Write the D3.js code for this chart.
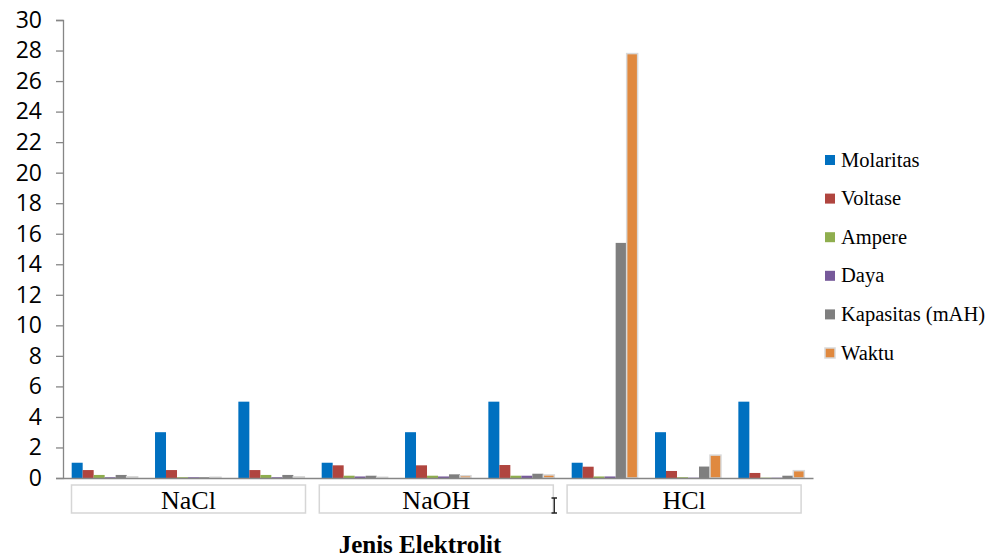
<!DOCTYPE html>
<html>
<head>
<meta charset="utf-8">
<script src="https://cdn.jsdelivr.net/npm/d3@7"></script>
<style>
  html, body { margin: 0; padding: 0; background: #fff; }
  svg { display: block; }
</style>
</head>
<body>
<svg id="chart" width="993" height="558"></svg>
<script>
// Electrolyte types and molarity levels (one bar cluster per electrolyte × molarity)
const electrolytes = ["NaCl", "NaOH", "HCl"];
const molarities = ["1 M", "3 M", "5 M"];
const seriesNames = ["Molaritas", "Voltase", "Ampere", "Daya", "Kapasitas (mAH)", "Waktu"];
const seriesColors = ["#0070C0", "#B0453F", "#8FAE4E", "#76599A", "#7F7F7F", "#E0893F"];
const yTicks = [0, 2, 4, 6, 8, 10, 12, 14, 16, 18, 20, 22, 24, 26, 28, 30];

// Values per series, in cluster order: NaCl 1/3/5 M, NaOH 1/3/5 M, HCl 1/3/5 M
const molaritas = [1, 3, 5, 1, 3, 5, 1, 3, 5];
const voltase   = [0.52, 0.52, 0.52, 0.83, 0.83, 0.85, 0.74, 0.46, 0.33];
const ampere    = [0.2, 0.05, 0.2, 0.15, 0.15, 0.15, 0.1, 0.05, 0.02];
const daya      = [0.05, 0.05, 0.05, 0.1, 0.1, 0.15, 0.1, 0.02, 0.02];
const kapasitas = [0.2, 0.05, 0.2, 0.15, 0.24, 0.28, 15.4, 0.75, 0.15];
const waktu     = [0.08, 0.05, 0.08, 0.05, 0.15, 0.2, 27.8, 1.5, 0.48];
const seriesValues = [molaritas, voltase, ampere, daya, kapasitas, waktu];

const clusters = [];
electrolytes.forEach(e => molarities.forEach(m => clusters.push(e + " " + m)));

const serif = "'Liberation Serif', 'Times New Roman', serif";
const svg = d3.select("#chart");
const plotLeft = 63, plotRight = 813, plotTop = 20, plotBottom = 478;

const x0 = d3.scaleBand().domain(clusters).range([plotLeft, plotRight]).padding(0);
const x1 = d3.scaleBand().domain(seriesNames).range([0, x0.bandwidth()])
  .paddingInner(0).paddingOuter(0.79);
const y = d3.scaleLinear().domain([0, 30]).range([plotBottom, plotTop]);

// bars
const barG = svg.append("g");
seriesNames.forEach((s, si) => {
  barG.append("g").selectAll("rect").data(seriesValues[si]).join("rect")
    .attr("x", (d, i) => x0(clusters[i]) + x1(s))
    .attr("width", x1.bandwidth())
    .attr("y", d => y(d))
    .attr("height", d => y(0) - y(d))
    .attr("fill", seriesColors[si])
    .attr("stroke", si === 5 ? "#d9d9d9" : "none")
    .attr("stroke-width", si === 5 ? 1.5 : 0);
});

// y axis
const yAxis = d3.axisLeft(y).tickValues(yTicks).tickSize(7).tickPadding(14);
const gy = svg.append("g").attr("transform", `translate(${plotLeft},0)`).call(yAxis);
gy.select(".domain").attr("stroke", "#868686").attr("stroke-width", 1.3);
gy.selectAll(".tick line").attr("stroke", "#868686").attr("stroke-width", 1.3);
gy.selectAll(".tick text")
  .attr("font-family", "'Open Sans', 'Liberation Sans', sans-serif")
  .attr("font-size", 23)
  .attr("fill", "#000");

// x axis baseline
const xAxis = d3.axisBottom(x0).tickSize(0).tickFormat("");
const gx = svg.append("g").attr("transform", `translate(0,${plotBottom})`).call(xAxis);
gx.select(".domain").attr("stroke", "#868686").attr("stroke-width", 1.5);

// category boxes for the electrolytes
const catG = svg.append("g");
electrolytes.forEach((e, ei) => {
  const first = x0(e + " " + molarities[0]);
  const bx = first + 8.5 - ei * 2.2, bw = 234;
  catG.append("rect")
    .attr("x", bx).attr("y", 485)
    .attr("width", bw).attr("height", 28)
    .attr("fill", "#fff")
    .attr("stroke", "#d6d6d6")
    .attr("stroke-width", 1.5);
  catG.append("text")
    .attr("x", bx + bw / 2)
    .attr("y", 509)
    .attr("text-anchor", "middle")
    .attr("font-family", serif)
    .attr("font-size", 26)
    .attr("fill", "#000")
    .text(e);
});
// small cursor-like mark at the right end of the NaOH box
catG.append("path")
  .attr("d", "M551.5,498H557M554.3,498V513M551.5,513H557")
  .attr("stroke", "#222").attr("stroke-width", 1.3).attr("fill", "none");

// axis title
svg.append("text")
  .attr("x", 420).attr("y", 553)
  .attr("text-anchor", "middle")
  .attr("font-family", serif)
  .attr("font-weight", "bold")
  .attr("font-size", 25)
  .attr("fill", "#000")
  .text("Jenis Elektrolit");

// legend
const legend = svg.append("g");
seriesNames.forEach((s, i) => {
  const cy = 160 + i * 38.6;
  legend.append("rect")
    .attr("x", 825).attr("y", cy - 5)
    .attr("width", 10).attr("height", 10)
    .attr("fill", seriesColors[i])
    .attr("stroke", i === 5 ? "#d9d9d9" : "none")
    .attr("stroke-width", i === 5 ? 1.5 : 0);
  legend.append("text")
    .attr("x", 841).attr("y", cy + 6.5)
    .attr("font-family", serif)
    .attr("font-size", 20.5)
    .attr("fill", "#000")
    .text(s);
});
</script>
</body>
</html>
